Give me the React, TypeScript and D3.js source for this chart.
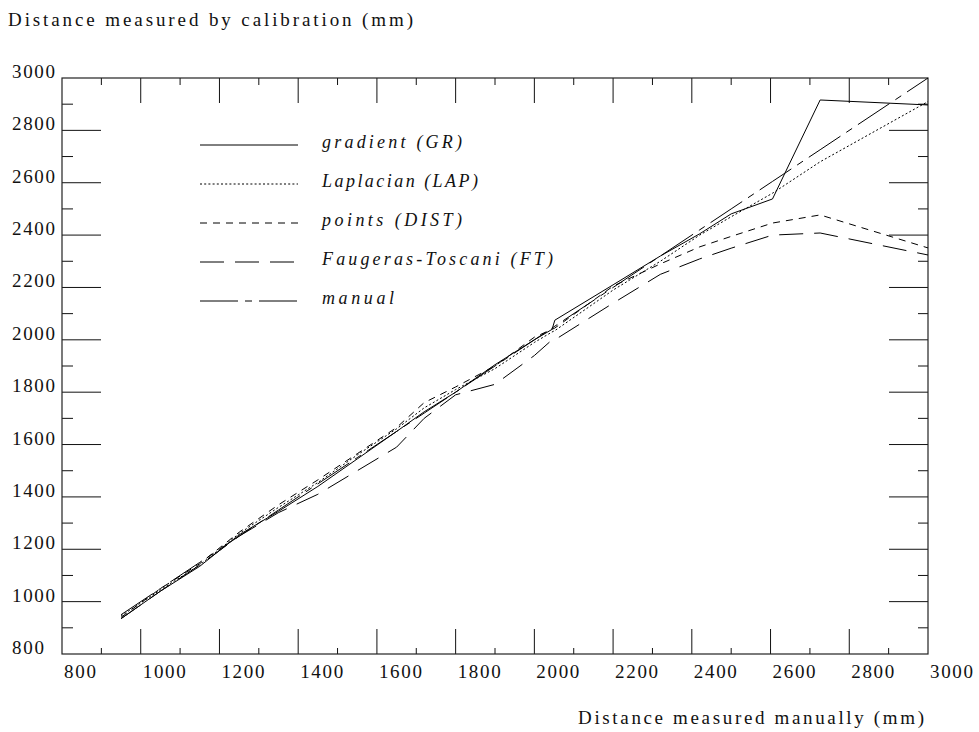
import React, { useEffect, useRef } from 'react';
import * as d3 from 'd3';

// measured distances (mm)
const manualX = [950, 1050, 1150, 1250, 1350, 1450, 1550, 1650, 1720, 1800, 1900, 2000, 2045, 2052, 2200, 2320, 2420, 2500, 2605, 2726, 3000];

// calibrated distances per method
const gradientY = [935, 1040, 1135, 1255, 1345, 1440, 1545, 1650, 1725, 1800, 1905, 2000, 2040, 2075, 2210, 2320, 2405, 2481, 2538, 2916, 2897];
const laplacianY = [945, 1045, 1140, 1260, 1360, 1455, 1560, 1660, 1740, 1810, 1890, 1990, 2030, 2035, 2190, 2300, 2400, 2470, 2560, 2680, 2910];
const pointsY = [940, 1050, 1145, 1265, 1370, 1465, 1565, 1665, 1760, 1820, 1900, 2010, 2040, 2045, 2205, 2290, 2355, 2395, 2446, 2477, 2351];
const faugerasY = [935, 1040, 1140, 1250, 1340, 1410, 1500, 1590, 1700, 1790, 1830, 1940, 2000, 2000, 2140, 2250, 2309, 2350, 2400, 2408, 2324];
const manualY = manualX.slice();

const xTicks = [800, 1000, 1200, 1400, 1600, 1800, 2000, 2200, 2400, 2600, 2800, 3000];
const yTicks = [800, 1000, 1200, 1400, 1600, 1800, 2000, 2200, 2400, 2600, 2800, 3000];

const series = [
  { label: 'gradient (GR)', values: gradientY, dash: '', textLen: 140 },
  { label: 'Laplacian (LAP)', values: laplacianY, dash: '2,2.2', textLen: 156 },
  { label: 'points (DIST)', values: pointsY, dash: '7,6', textLen: 140 },
  { label: 'Faugeras-Toscani (FT)', values: faugerasY, dash: '24,11', textLen: 231 },
  { label: 'manual', values: manualY, dash: '38,7,7,7', textLen: 72 },
];

const W = 979;
const H = 732;
const FONT = '"Liberation Serif", "DejaVu Serif", serif';

const App: React.FC = () => {
  const svgRef = useRef<SVGSVGElement>(null);

  useEffect(() => {
    document.body.style.margin = '0';
    if (!svgRef.current) return;
    const svg = d3.select(svgRef.current);
    svg.selectAll('*').remove();

    const left = 62, right = 928, top = 78, bottom = 654;

    const x = d3.scaleLinear().domain([800, 3000]).range([left, right]);
    const y = d3.scaleLinear().domain([800, 3000]).range([bottom, top]);

    // minor / major ticks
    const minor = d3.range(900, 3000, 200);
    const major = d3.range(1000, 3000, 200);
    const tickG = svg.append('g').attr('stroke', '#111').attr('stroke-width', 1);

    major.forEach(v => {
      tickG.append('line').attr('x1', x(v)).attr('x2', x(v)).attr('y1', bottom).attr('y2', bottom - 25);
      tickG.append('line').attr('x1', x(v)).attr('x2', x(v)).attr('y1', top).attr('y2', top + 25);
      tickG.append('line').attr('x1', left).attr('x2', left + 39).attr('y1', y(v)).attr('y2', y(v));
      tickG.append('line').attr('x1', right).attr('x2', right - 39).attr('y1', y(v)).attr('y2', y(v));
    });
    minor.forEach(v => {
      tickG.append('line').attr('x1', x(v)).attr('x2', x(v)).attr('y1', bottom).attr('y2', bottom - 6);
      tickG.append('line').attr('x1', x(v)).attr('x2', x(v)).attr('y1', top).attr('y2', top + 7);
      tickG.append('line').attr('x1', left).attr('x2', left + 11).attr('y1', y(v)).attr('y2', y(v));
      tickG.append('line').attr('x1', right).attr('x2', right - 10).attr('y1', y(v)).attr('y2', y(v));
    });

    // frame
    svg.append('rect')
      .attr('x', left).attr('y', top)
      .attr('width', right - left).attr('height', bottom - top)
      .attr('fill', 'none').attr('stroke', '#222').attr('stroke-width', 1.2);

    // tick labels
    svg.append('g').selectAll('text')
      .data(xTicks)
      .enter().append('text')
      .attr('x', d => x(d) + 2)
      .attr('y', 678)
      .attr('textLength', d => (String(d).length === 3 ? 32 : 43))
      .attr('lengthAdjust', 'spacing')
      .style('font-family', FONT)
      .style('font-size', '19px')
      .style('fill', '#111')
      .text(d => String(d));

    svg.append('g').selectAll('text')
      .data(yTicks)
      .enter().append('text')
      .attr('x', 12)
      .attr('y', d => y(d))
      .attr('textLength', d => (String(d).length === 3 ? 32 : 43))
      .attr('lengthAdjust', 'spacing')
      .style('font-family', FONT)
      .style('font-size', '19px')
      .style('fill', '#111')
      .text(d => String(d));

    // axis titles
    svg.append('text')
      .attr('x', 8).attr('y', 26)
      .attr('textLength', 405).attr('lengthAdjust', 'spacing')
      .style('font-family', FONT).style('font-size', '19px').style('fill', '#111')
      .text('Distance measured by calibration (mm)');

    svg.append('text')
      .attr('x', 578).attr('y', 724)
      .attr('textLength', 346).attr('lengthAdjust', 'spacing')
      .style('font-family', FONT).style('font-size', '19px').style('fill', '#111')
      .text('Distance measured manually (mm)');

    // curves
    const line = d3.line<number>()
      .x((_, i) => x(manualX[i]))
      .y(d => y(d));

    series.forEach(s => {
      svg.append('path')
        .datum(s.values)
        .attr('d', line)
        .attr('fill', 'none')
        .attr('stroke', '#000')
        .attr('stroke-width', 1)
        .attr('stroke-dasharray', s.dash || null);
    });

    // legend
    const legend = svg.append('g');
    series.forEach((s, i) => {
      const ly = 145 + i * 39;
      legend.append('line')
        .attr('x1', 200).attr('x2', 298)
        .attr('y1', ly).attr('y2', ly)
        .attr('stroke', '#000').attr('stroke-width', 1)
        .attr('stroke-dasharray', s.dash || null);
      legend.append('text')
        .attr('x', 322).attr('y', ly + 3)
        .attr('textLength', s.textLen).attr('lengthAdjust', 'spacing')
        .style('font-family', FONT).style('font-style', 'italic')
        .style('font-size', '18px').style('fill', '#111')
        .text(s.label);
    });
  }, []);

  return <svg ref={svgRef} width={W} height={H} style={{ display: 'block', background: '#fff' }} />;
};

export default App;
